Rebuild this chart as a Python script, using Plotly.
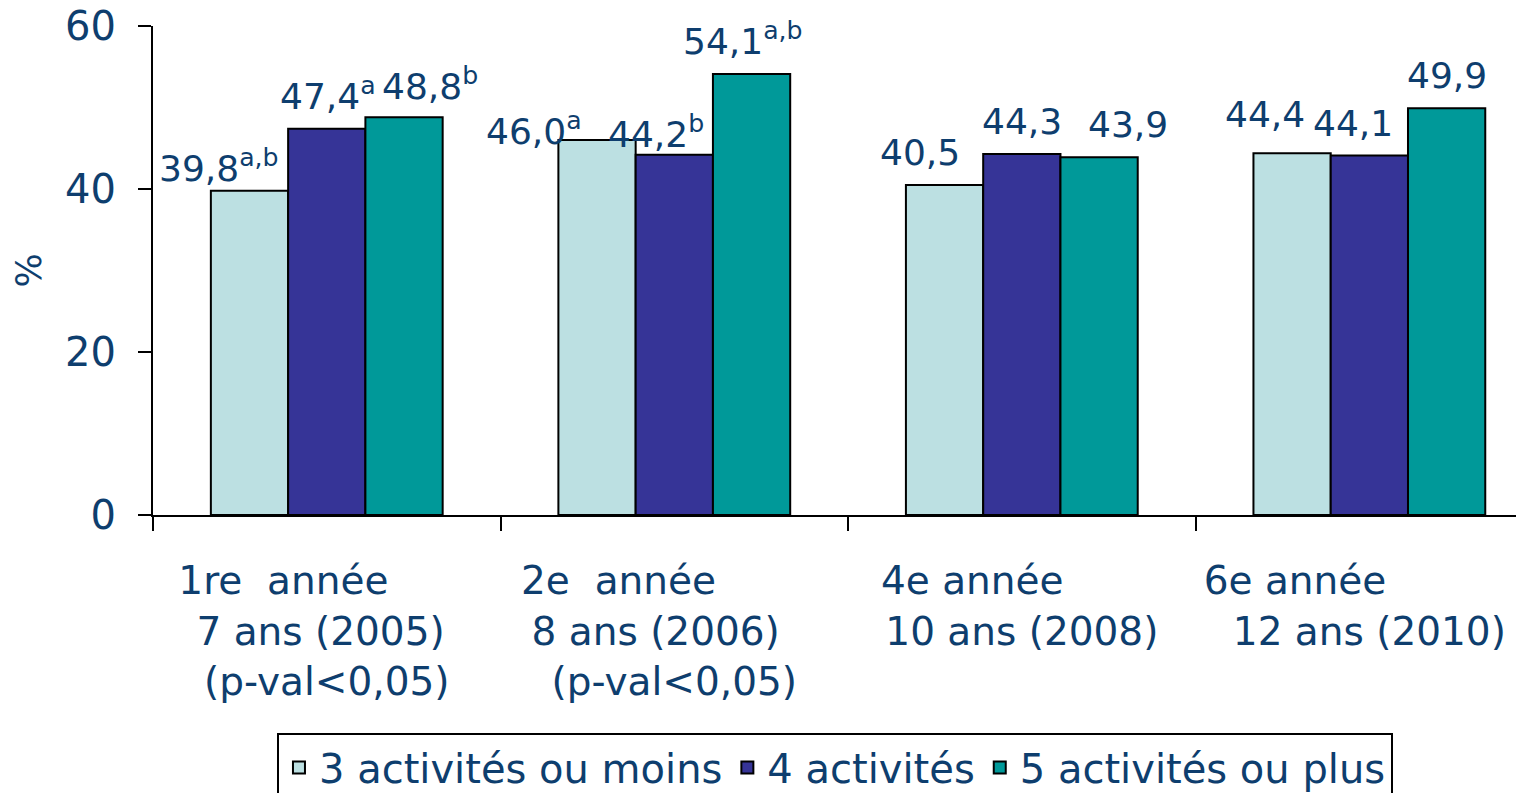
import plotly.graph_objects as go

# categories (x axis) and series
categories = [
    "1re  année" + "\u00a0" * 7 + "<br>7 ans (2005)" + "\u00a0" * 1 + "<br>(p-val<0,05)",
    "2e  année" + "\u00a0" * 9 + "<br>8 ans (2006)" + "\u00a0" * 3 + "<br>(p-val<0,05)",
    "4e année" + "\u00a0" * 8 + "<br>10 ans (2008)",
    "6e année" + "\u00a0" * 12 + "<br>12 ans (2010)",
]
series_names = ["3 activités ou moins", "4 activités", "5 activités ou plus"]
vals_3moins = [39.8, 46.0, 40.5, 44.4]
vals_4 = [47.4, 44.2, 44.3, 44.1]
vals_5plus = [48.8, 54.1, 43.9, 49.9]
sup_3moins = ["a,b", "a", "", ""]
sup_4 = ["a", "b", "", ""]
sup_5plus = ["b", "a,b", "", ""]
y_ticks = [0, 20, 40, 60]

# small pixel nudges of the value labels (as placed in the original)
dx_3moins = [-31, -63, -25, -27]
dx_4 = [1, -18, 0, -16]
dx_5plus = [26, -9, 29, 0]
dy_3moins = [0, -14, 10, 16]
dy_4 = [10, -2, 10, 10]
dy_5plus = [8, 10, 10, 10]

colors = ["#BCE0E2", "#363497", "#009999"]
txt_color = "#0E3E6E"
font_family = "'DejaVu Sans', sans-serif"
bargap = 0.333


def label(v, s):
    t = f"{v:.1f}".replace(".", ",")
    if s:
        t += f"<sup>{s}</sup>"
    return t


fig = go.Figure()
bar_w = (1 - bargap) / 3
all_vals = [vals_3moins, vals_4, vals_5plus]
all_sups = [sup_3moins, sup_4, sup_5plus]
all_dx = [dx_3moins, dx_4, dx_5plus]
all_dy = [dy_3moins, dy_4, dy_5plus]
for i, (name, vals, col) in enumerate(zip(series_names, all_vals, colors)):
    fig.add_trace(go.Bar(
        x=categories, y=vals, name=name,
        marker=dict(color=col, line=dict(color="black", width=2)),
    ))
    for j, v in enumerate(vals):
        fig.add_annotation(
            x=j + (i - 1) * bar_w, y=v, xref="x", yref="y",
            text=label(v, all_sups[i][j]), showarrow=False,
            yanchor="bottom", xanchor="center",
            xshift=all_dx[i][j], yshift=all_dy[i][j],
            font=dict(size=36, color=txt_color, family=font_family),
        )

# the page body adds an 8px offset, margins compensate for it
fig.update_layout(
    width=1524, height=793,
    margin=dict(l=145, r=0, t=18, b=286, autoexpand=False),
    paper_bgcolor="white", plot_bgcolor="white",
    barmode="group", bargap=bargap, bargroupgap=0,
    font=dict(family=font_family, color=txt_color, size=36),
    xaxis=dict(
        type="category", range=[-0.5, 3.468], automargin=False,
        tickson="boundaries", ticks="outside", ticklen=14, tickwidth=2,
        tickcolor="black", showline=True, linecolor="black", linewidth=2,
        tickfont=dict(size=39, color=txt_color), showgrid=False,
        ticklabelstandoff=30,
    ),
    yaxis=dict(
        range=[0, 60], tickvals=y_ticks, ticks="outside", ticklen=13,
        tickwidth=2, tickcolor="black", showline=True, linecolor="black",
        linewidth=2, showgrid=False, zeroline=False, automargin=False,
        tickfont=dict(size=40, color=txt_color), ticklabelstandoff=14,
        ticklabeloverflow="allow",
        title=dict(text="%", font=dict(size=36, color=txt_color), standoff=52),
    ),
    legend=dict(
        orientation="h", x=0.0899, xanchor="left", y=-0.446, yanchor="top",
        bordercolor="black", borderwidth=2, bgcolor="white",
        font=dict(size=40, color=txt_color),
        traceorder="normal", tracegroupgap=0,
    ),
)

fig.write_html("out.html")
